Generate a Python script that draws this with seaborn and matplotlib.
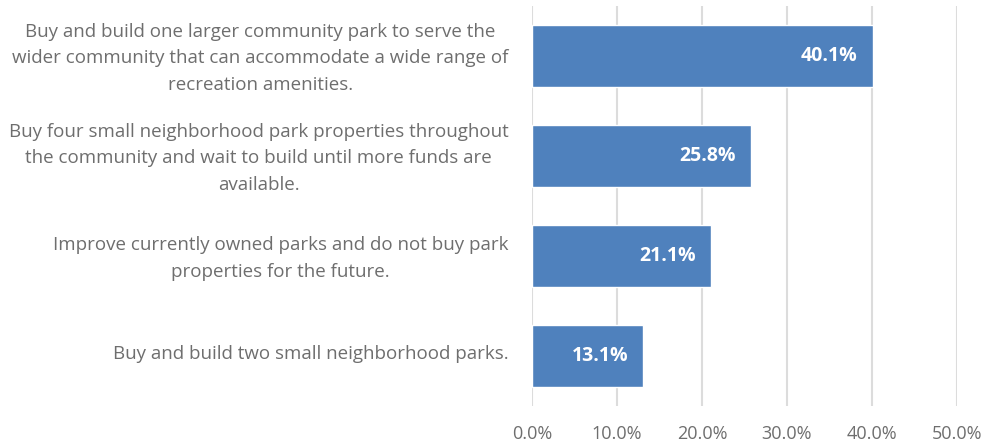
import matplotlib
matplotlib.use("Agg")
import matplotlib.pyplot as plt
import seaborn as sns
import pandas as pd
from matplotlib.ticker import FuncFormatter
from matplotlib.transforms import ScaledTranslation

options = [
    "Buy and build one larger community park to serve the\nwider community that can accommodate a wide range of\nrecreation amenities.",
    "Buy four small neighborhood park properties throughout\nthe community and wait to build until more funds are\navailable.",
    "Improve currently owned parks and do not buy park\nproperties for the future.",
    "Buy and build two small neighborhood parks.",
]
shares = [40.1, 25.8, 21.1, 13.1]
x_ticks = [0, 10, 20, 30, 40, 50]

sns.set_theme(style="white")
plt.rcParams["font.family"] = ["Open Sans", "DejaVu Sans"]

text_gray = "#6E6E6E"
bar_blue = "#4F81BD"
grid_gray = "#DCDCDC"

df = pd.DataFrame({"option": options, "share": shares})

fig = plt.figure(figsize=(9.82, 4.45), dpi=100)
ax = fig.add_axes([532 / 982, 1 - 406 / 445, 425 / 982, 400 / 445])

sns.barplot(data=df, x="share", y="option", orient="h", color=bar_blue,
            saturation=1, width=0.62, ax=ax, zorder=3)

ax.set_xlim(0, 50)
ax.set_ylim(3.5, -0.5)
ax.set_xticks(x_ticks)
ax.xaxis.set_major_formatter(FuncFormatter(lambda v, _: f"{v:.1f}%"))
ax.grid(axis="x", color=grid_gray, linewidth=1.5, zorder=0)
ax.grid(axis="y", visible=False)
for side in ["top", "right", "bottom", "left"]:
    ax.spines[side].set_visible(False)

ax.set_xlabel("")
ax.set_ylabel("")
ax.tick_params(axis="x", length=0, pad=14, labelsize=13, labelcolor=text_gray)
ax.tick_params(axis="y", length=0, pad=17, labelsize=13.5, labelcolor=text_gray)
lift = ScaledTranslation(0, 4 / 100, fig.dpi_scale_trans)
for lbl in ax.get_yticklabels():
    lbl.set_multialignment("center")
    lbl.set_linespacing(1.62)
    lbl.set_transform(lbl.get_transform() + lift)

for i, v in enumerate(shares):
    ax.text(v - 1.8, i, f"{v:.1f}%", ha="right", va="center", color="white",
            fontsize=14, fontweight="bold", zorder=4)

fig.savefig("out.png", dpi=100)
